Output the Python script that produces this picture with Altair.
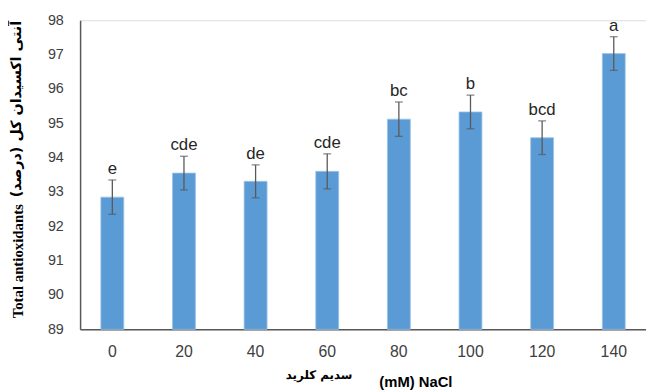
import altair as alt
import pandas as pd

nacl = ["0", "20", "40", "60", "80", "100", "120", "140"]
means = [92.85, 93.55, 93.31, 93.60, 95.12, 95.33, 94.58, 97.03]
errs = [0.50, 0.49, 0.48, 0.51, 0.50, 0.49, 0.49, 0.49]
letters = ["e", "cde", "de", "cde", "bc", "b", "bcd", "a"]
yticks = [89, 90, 91, 92, 93, 94, 95, 96, 97, 98]

df = pd.DataFrame({"nacl": nacl, "mean": means, "err": errs, "letter": letters})
df["lo"] = df["mean"] - df["err"]
df["hi"] = df["mean"] + df["err"]

xscale = alt.Scale(paddingInner=0.68, paddingOuter=0.29)
xaxis = alt.Axis(labelAngle=0, labelFont="Liberation Sans", labelFontSize=16,
                 labelColor="#404040", labelPadding=14, ticks=False,
                 domainColor="#595959", domainWidth=1.5, grid=False)
yscale = alt.Scale(domain=[89, 98], zero=False, nice=False)
yaxis = alt.Axis(values=yticks, labelFont="Liberation Sans",
                 labelFontSize=14.5, labelColor="#404040", labelPadding=17,
                 labelOverlap=False, labelFlush=False,
                 ticks=False, grid=False, domainColor="#595959", domainWidth=1.5)


def X():
    return alt.X("nacl:N", sort=nacl, title=None, scale=xscale, axis=xaxis)


def Y(field):
    return alt.Y(field, scale=yscale, title=None, axis=yaxis)


base = alt.Chart(df)

bars = base.mark_bar(color="#5B9BD5", stroke="#9DC3E6", strokeWidth=0.8).encode(
    x=X(), y=Y("mean:Q"), y2=alt.datum(89))

rules = base.mark_rule(color="#595959", strokeWidth=1.3).encode(
    x=X(), y=Y("lo:Q"), y2="hi:Q")
caps_hi = base.mark_tick(color="#595959", thickness=1.3, size=8).encode(
    x=X(), y=Y("hi:Q"))
caps_lo = base.mark_tick(color="#595959", thickness=1.3, size=8).encode(
    x=X(), y=Y("lo:Q"))

labels = base.mark_text(font="Liberation Sans", fontSize=17, color="#262626",
                        baseline="alphabetic", dy=-6).encode(
    x=X(), y=Y("hi:Q"), text="letter:N")

ytitle_en = alt.Chart(pd.DataFrame({"t": ["Total antioxidants"]})).mark_text(
    font="Liberation Serif", fontWeight="bold", fontSize=15, angle=270,
    baseline="middle", align="center", color="#000000").encode(
    x=alt.value(-63), y=alt.value(244), text="t:N")
ytitle_fa = alt.Chart(pd.DataFrame({"t": ["آنتی اکسیدان کل (درصد)"]})).mark_text(
    font="DejaVu Sans", fontWeight="bold", fontSize=14.5, angle=270,
    baseline="middle", align="center", color="#000000").encode(
    x=alt.value(-64), y=alt.value(90), text="t:N")
xtitle_en = alt.Chart(pd.DataFrame({"t": ["(mM) NaCl"]})).mark_text(
    font="Liberation Sans", fontWeight="bold", fontSize=15,
    baseline="middle", align="center", color="#000000").encode(
    x=alt.value(340), y=alt.value(366), text="t:N")
xtitle_fa = alt.Chart(pd.DataFrame({"t": ["سدیم کلرید"]})).mark_text(
    font="DejaVu Sans", fontSize=12, fontWeight="bold",
    baseline="middle", align="center", color="#000000").encode(
    x=alt.value(242), y=alt.value(359), text="t:N")

chart = alt.layer(bars, rules, caps_hi, caps_lo, labels,
                  ytitle_en, ytitle_fa, xtitle_en, xtitle_fa).properties(
    width=573, height=313,
    autosize=alt.AutoSizeParams(type="none"),
    padding={"left": 73, "top": 10, "right": 0, "bottom": 60},
).configure_view(stroke=None).configure(background="white")

chart.save("out.html", embed_options={"renderer": "svg", "actions": False})
